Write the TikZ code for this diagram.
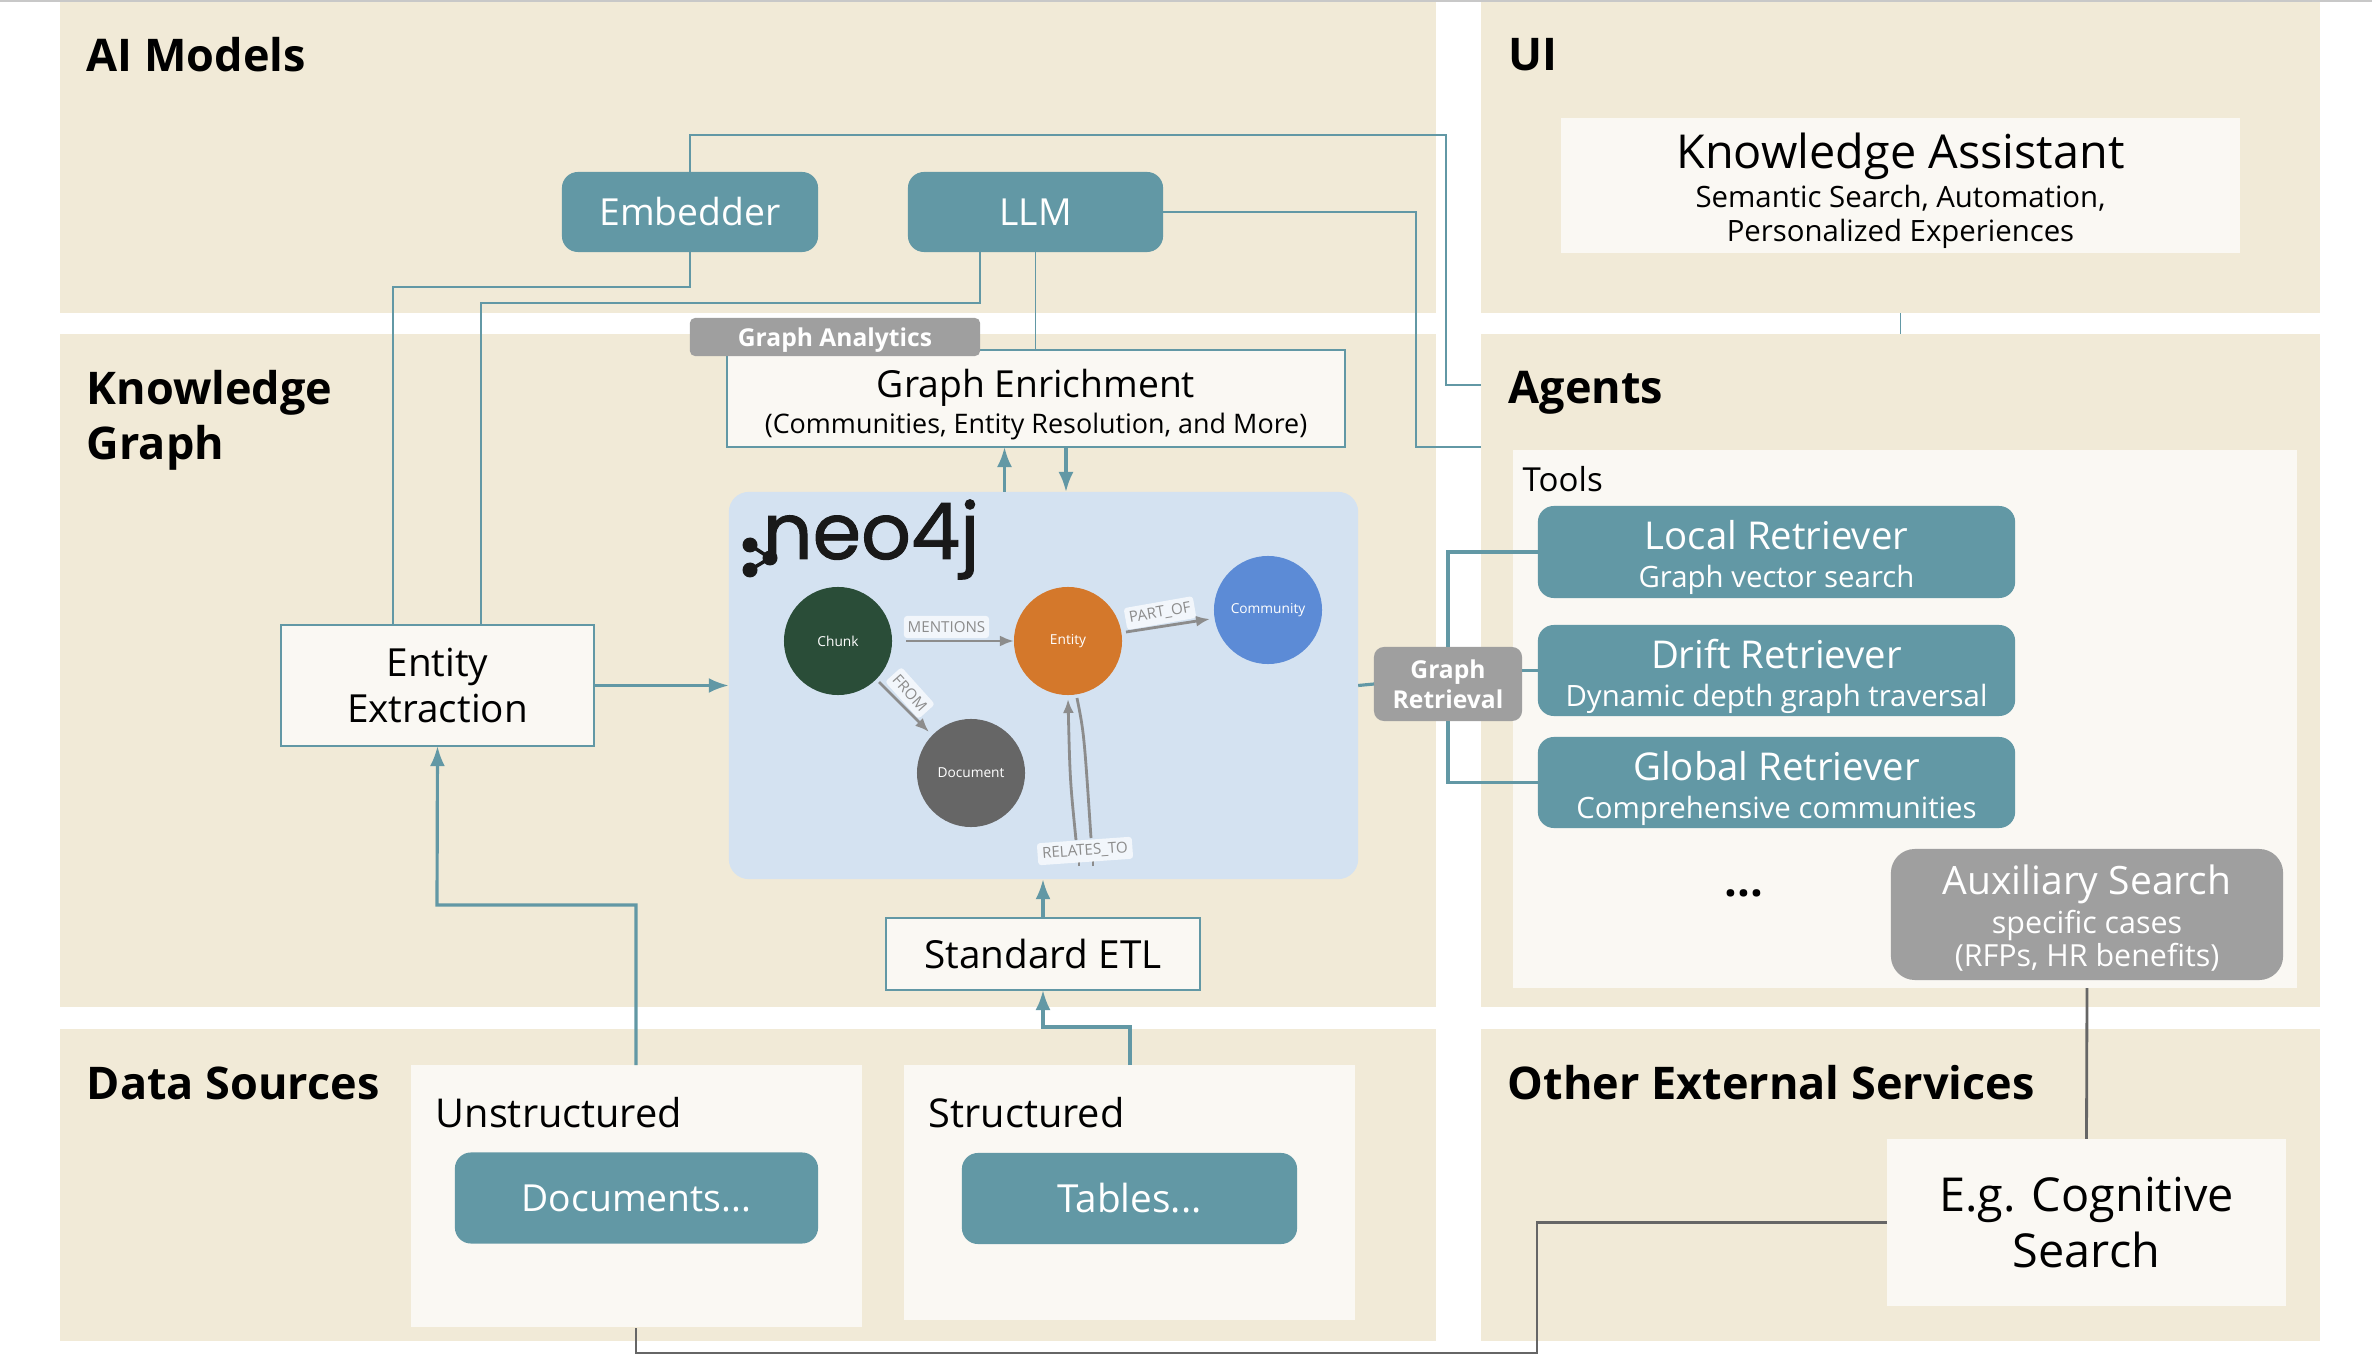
\documentclass[tikz,border=0pt]{standalone}
\usepackage{fontspec}
\setmainfont{Open Sans}
\newfontfamily\logofont[FakeBold=1.2]{Poppins}
\usetikzlibrary{arrows.meta}
\definecolor{panelcol}{HTML}{F1EAD7}
\definecolor{paper}{HTML}{FAF8F3}
\definecolor{tealcol}{HTML}{6298A5}
\definecolor{greycol}{HTML}{9F9F9F}
\definecolor{darkline}{HTML}{666666}
\definecolor{topline}{HTML}{C8C8C8}
\definecolor{neocol}{HTML}{D4E2F1}
\definecolor{edgecol}{HTML}{8C8C8C}
\definecolor{chunkcol}{HTML}{2A4D38}
\definecolor{entitycol}{HTML}{D4782B}
\definecolor{communitycol}{HTML}{5C8BD6}
\definecolor{documentcol}{HTML}{666666}
\newcommand{\headsize}{\fontsize{12.8}{15.6}\selectfont\bfseries}
\newcommand{\mainsize}{\fontsize{13.3}{15.9}\selectfont}
\newcommand{\midsize}{\fontsize{10.6}{13.3}\selectfont}
\newcommand{\wordsize}{\fontsize{11}{13.3}\selectfont}
\newcommand{\subsize}{\fontsize{8.35}{9.8}\selectfont}
\newcommand{\smallsize}{\fontsize{7.65}{9}\selectfont}
\newcommand{\tagsize}{\fontsize{7}{8.6}\selectfont\bfseries}
\newcommand{\toppad}[1]{\rule{0pt}{#1}}
\tikzset{
    panel/.style={fill=panelcol,inner sep=0pt,outer sep=0pt},
    heading/.style={anchor=west,align=left,inner sep=0pt,font=\headsize,text=black},
    sheet/.style={fill=paper,inner sep=0pt,outer sep=0pt},
    sheetline/.style={sheet,draw=tealcol,line width=0.5pt},
    tealbox/.style={fill=tealcol,rounded corners=0.16cm,inner sep=0pt,outer sep=0pt,text=white,align=center},
    greybox/.style={fill=greycol,rounded corners=0.16cm,inner sep=0pt,outer sep=0pt,text=white,align=center},
    link/.style={draw=tealcol,line width=0.55pt},
    thicklink/.style={draw=tealcol,line width=0.9pt},
    flow/.style={thicklink,-{Latex[length=0.2cm,width=0.15cm]}},
    greylink/.style={draw=darkline,line width=0.8pt},
    circlenode/.style={circle,minimum size=1.08cm,inner sep=0pt,outer sep=0pt,text=white,font=\fontsize{3.9}{5}\selectfont},
    edgeline/.style={draw=edgecol,line width=0.8pt,-{Latex[length=0.14cm,width=0.11cm]}},
    edgestub/.style={draw=edgecol,line width=0.8pt},
    edgetag/.style={fill=white!70!neocol,rounded corners=0.03cm,inner sep=0pt,minimum height=0.22cm,text=edgecol,font=\fontsize{4.3}{5}\selectfont},
}
\begin{document}
\begin{tikzpicture}[x=0.01cm,y=-0.01cm]
    \useasboundingbox (0,0) rectangle (2372,1364);
    %% four rows of panels
    \node[panel,minimum width=13.76cm,minimum height=3.13cm] (aipanel) at (748,156.5) {};
    \node[panel,minimum width=8.39cm,minimum height=3.13cm] (uipanel) at (1900.5,156.5) {};
    \node[panel,minimum width=13.76cm,minimum height=6.73cm] (kgpanel) at (748,670.5) {};
    \node[panel,minimum width=8.39cm,minimum height=6.73cm] (agentpanel) at (1900.5,670.5) {};
    \node[panel,minimum width=13.76cm,minimum height=3.12cm] (datapanel) at (748,1185) {};
    \node[panel,minimum width=8.39cm,minimum height=3.12cm] (otherpanel) at (1900.5,1185) {};
    \fill[topline] (0,0) rectangle (2372,2);
    %% headings
    \node[heading] (aihead) at (86,55) {AI Models};
    \node[heading] (uihead) at (1508,55) {UI};
    \node[heading] (kghead) at (86,420) {Knowledge\\Graph};
    \node[heading] (agenthead) at (1508,393) {Agents};
    \node[heading] (datahead) at (86,1083) {Data Sources};
    \node[heading] (otherhead) at (1507,1083) {Other External Services};
    %% UI
    \node[sheet,minimum width=6.79cm,minimum height=1.35cm,align=center,font=\subsize] (assistant) at (1900.5,185.5)
        {{\mainsize\toppad{13.2pt}Knowledge Assistant}\\[1.3pt]Semantic Search, Automation,\\Personalized Experiences};
    %% AI models
    \node[tealbox,minimum width=2.56cm,minimum height=0.8cm,font=\midsize] (embedder) at (690,212) {Embedder};
    \node[tealbox,minimum width=2.55cm,minimum height=0.8cm,font=\midsize] (llm) at (1035.5,212) {LLM};
    %% knowledge graph
    \node[sheetline,minimum width=6.18cm,minimum height=0.97cm,align=center,font=\smallsize] (enrichment) at (1036,398.5)
        {{\midsize\toppad{11.3pt}Graph Enrichment}\\[1.3pt](Communities, Entity Resolution, and More)};
    \node[greybox,rounded corners=0.05cm,minimum width=2.9cm,minimum height=0.38cm,font=\tagsize] (analytics) at (835,337) {\toppad{7pt}Graph Analytics};
    \node[sheetline,minimum width=3.13cm,minimum height=1.21cm,align=center,font=\wordsize] (extraction) at (437.5,685.5) {Entity\\Extraction};
    \node[sheetline,minimum width=3.14cm,minimum height=0.72cm,font=\wordsize] (etl) at (1043,954) {Standard ETL};
    %% neo4j
    \node[fill=neocol,rounded corners=0.2cm,inner sep=0pt,outer sep=0pt,minimum width=6.29cm,minimum height=3.87cm] (neo) at (1043.5,685.5) {};
    \node[anchor=base west,inner sep=0pt,text=black!90,font=\fontsize{22.2}{26}\logofont] (logo) at (762,559) {neo4j};
    \fill[black!90] (750,545) circle (7.5) (750,570) circle (7.5) (770,558) circle (7.5);
    \draw[black!90,line width=1pt] (750,545) -- (770,558) -- (750,570);
    \node[circlenode,fill=chunkcol] (chunk) at (838,641) {Chunk};
    \node[circlenode,fill=entitycol] (entity) at (1068,641) {Entity};
    \node[circlenode,fill=communitycol] (community) at (1268,610) {Community};
    \node[circlenode,fill=documentcol] (document) at (971,773) {Document};
    \coordinate (relup) at (1076,840);
    \coordinate (relout) at (1091,838);
    \coordinate (relstubA) at (1079,866);
    \coordinate (relstubB) at (1093,866);
    \draw[edgeline,shorten <=4pt] (chunk.east) -- (entity.west);
    \draw[edgeline] (1126,632) -- (1210,619);
    \draw[edgeline] (879,682) -- (929,732);
    \draw[edgeline] (relup) .. controls (1070,780) .. (1068,699);
    \draw[edgestub] (1077,698) .. controls (1084,733) .. (relout);
    \draw[edgestub] (relstubA) -- ++(0,-8) (relstubB) -- ++(0,-8);
    \node[edgetag,minimum width=0.85cm] (mentions) at (946.5,627) {MENTIONS};
    \node[edgetag,minimum width=0.7cm,rotate=10] (partof) at (1160,613) {PART\_OF};
    \node[edgetag,minimum width=0.5cm,rotate=-48] (from) at (910,693) {FROM};
    \node[edgetag,minimum width=0.95cm,rotate=4] (relates) at (1085,851) {RELATES\_TO};
    %% agents
    \node[sheet,minimum width=7.84cm,minimum height=5.38cm] (tools) at (1905,719) {};
    \node[anchor=west,inner sep=0pt,font=\fontsize{9.4}{11}\selectfont] (toolslabel) at (1522,479) {Tools};
    \node[tealbox,minimum width=4.77cm,minimum height=0.92cm,font=\subsize] (local) at (1776.5,552)
        {{\fontsize{10.9}{12}\selectfont\toppad{11.5pt}Local Retriever}\\[1pt]Graph vector search};
    \node[tealbox,minimum width=4.77cm,minimum height=0.91cm,font=\subsize] (drift) at (1776.5,670.5)
        {{\fontsize{10.9}{12}\selectfont\toppad{11.5pt}Drift Retriever}\\[1pt]Dynamic depth graph traversal};
    \node[tealbox,minimum width=4.77cm,minimum height=0.91cm,font=\subsize] (global) at (1776.5,782.5)
        {{\fontsize{10.9}{12}\selectfont\toppad{11.5pt}Global Retriever}\\[1pt]Comprehensive communities};
    \node[greybox,rounded corners=0.24cm,minimum width=3.92cm,minimum height=1.31cm,font=\fontsize{8.65}{9.5}\selectfont] (auxiliary) at (2087,914.5)
        {{\fontsize{11.1}{12}\selectfont\toppad{10.6pt}Auxiliary Search}\\[1.4pt]specific cases\\(RFPs, HR benefits)};
    \node[inner sep=0pt,font=\headsize] (dots) at (1743.6,893) {...};
    \node[greybox,rounded corners=0.1cm,minimum width=1.48cm,minimum height=0.74cm,font=\tagsize] (retrieval) at (1448,684) {Graph\\Retrieval};
    %% data sources
    \node[sheet,minimum width=4.51cm,minimum height=2.62cm] (unstructured) at (636.5,1196) {};
    \node[anchor=west,inner sep=0pt,font=\fontsize{11.3}{13}\selectfont] (unstructuredlabel) at (435,1113) {Unstructured};
    \node[tealbox,minimum width=3.63cm,minimum height=0.91cm,font=\midsize] (documents) at (636.5,1198) {Documents...};
    \node[sheet,minimum width=4.51cm,minimum height=2.55cm] (structured) at (1129.5,1192.5) {};
    \node[anchor=west,inner sep=0pt,font=\fontsize{11.3}{13}\selectfont] (structuredlabel) at (928,1113) {Structured};
    \node[tealbox,minimum width=3.35cm,minimum height=0.91cm,font=\wordsize] (tables) at (1129.5,1198.5) {Tables...};
    %% other services
    \node[sheet,minimum width=3.99cm,minimum height=1.67cm,align=center,font=\mainsize] (cognitive) at (2086.5,1222.5) {E.g. Cognitive\\Search};
    %% connectors
    \coordinate (llmdown) at (980,252);
    \coordinate (extleft) at (393,625);
    \coordinate (extright) at (481,625);
    \coordinate (agentA) at (agentpanel.west |- 0,385);
    \coordinate (agentB) at (agentpanel.west |- 0,447);
    \coordinate (unstrtop) at (636,1065);
    \coordinate (unstrbottom) at (636,1328);
    \coordinate (strtop) at (1130,1065);
    \draw[link] (embedder.north) |- (1446,135) |- (agentA);
    \draw[link] (embedder.south) |- (393,287) -- (extleft);
    \draw[link] (llmdown) |- (481,303) -- (extright);
    \draw[link] (llm.south) -- (enrichment.north -| llm.south);
    \draw[link] (llm.east) -| (1416,447) -- (agentB);
    \draw[flow] (1004.5,492) -- (1004.5,447);
    \draw[flow] (1066,447) -- (1066,492);
    \draw[flow] (extraction.east) -- (neo.west);
    \draw[flow] (etl.north) -- (neo.south -| etl.north);
    \draw[flow] (unstrtop) |- (437,905) -- (extraction.south);
    \draw[flow] (strtop) |- (1043,1027) -- (etl.south);
    \draw[thicklink] (neo.east) -- (retrieval.west);
    \draw[thicklink] (retrieval.north) |- (local.west);
    \draw[thicklink] (retrieval.south) |- (global.west);
    \draw[thicklink] (retrieval.east |- drift.west) -- (drift.west);
    \draw[link] (uipanel.south) -- (agentpanel.north);
    \draw[greylink] (auxiliary.south |- tools.south) -- (cognitive.north);
    \draw[greylink] (unstrbottom) |- (1537,1353) |- (cognitive.west);
\end{tikzpicture}
\end{document}
